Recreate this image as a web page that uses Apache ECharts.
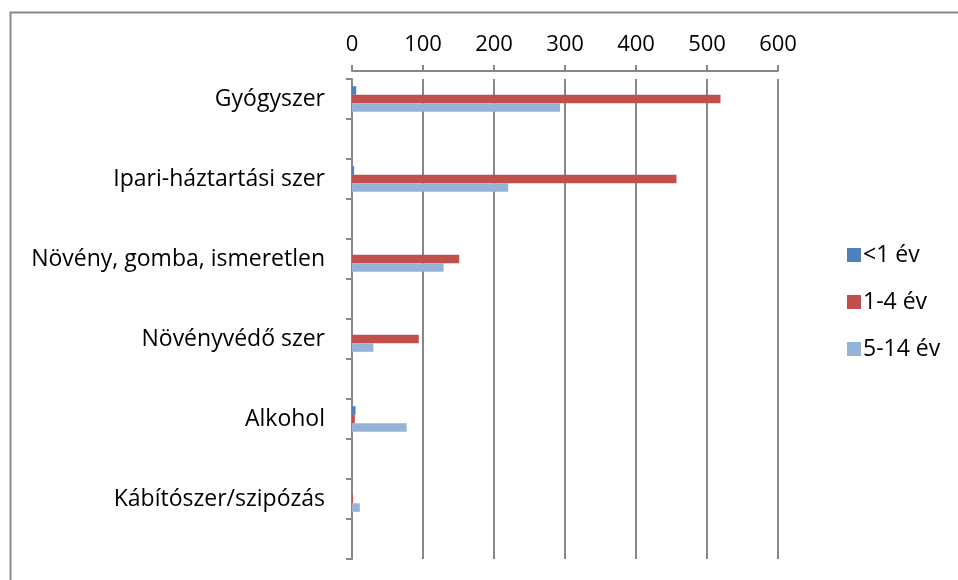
<!DOCTYPE html>
<html>
<head>
<meta charset="utf-8">
<script src="https://cdn.jsdelivr.net/npm/echarts@6/dist/echarts.min.js"></script>
<style>
  html, body { margin: 0; padding: 0; background: #fff; }
  #main { width: 958px; height: 580px; }
</style>
</head>
<body>
<div id="main"></div>
<script>
// adatok
const categories = ['Gyógyszer', 'Ipari-háztartási szer', 'Növény, gomba, ismeretlen', 'Növényvédő szer', 'Alkohol', 'Kábítószer/szipózás']
const under1 = [6, 3, 0, 0, 5, 0]
const age1to4 = [519, 457, 151, 94, 4, 1.5]
const age5to14 = [293, 220, 129, 30, 77, 11]
const xTicks = [0, 100, 200, 300, 400, 500, 600]

// minden kategória után egy üres sor, ahogy az eredeti táblában
const spaced = (arr, blank) => arr.flatMap(v => [v, blank])
const yCats = spaced(categories, '')

const font = '"Open Sans", sans-serif'
const gray = '#878787'

const chart = echarts.init(document.getElementById('main'))
chart.setOption({
  animation: false,
  graphic: [{
    type: 'rect',
    shape: { x: 10.5, y: 12.5, width: 1000, height: 1000 },
    style: { fill: 'none', stroke: gray, lineWidth: 2 }
  }],
  legend: {
    orient: 'vertical',
    left: 842,
    top: 235,
    itemWidth: 14,
    itemHeight: 14,
    itemGap: 17,
    icon: 'rect',
    textStyle: { fontFamily: font, fontSize: 23, lineHeight: 30, color: '#000', padding: [0, 0, 0, -3] },
    data: ['<1 év', '1-4 év', '5-14 év']
  },
  grid: { left: 352, right: 180, top: 79, bottom: 21 },
  xAxis: {
    type: 'value',
    position: 'top',
    offset: 8,
    min: xTicks[0],
    max: xTicks[xTicks.length - 1],
    interval: 100,
    axisLine: { show: true, lineStyle: { color: gray, width: 2 } },
    axisTick: { show: true, length: 6, lineStyle: { color: gray, width: 2 } },
    axisLabel: { fontFamily: font, fontSize: 22, color: '#000', margin: 15 },
    splitLine: { show: true, lineStyle: { color: gray, width: 2 } }
  },
  yAxis: {
    type: 'category',
    inverse: true,
    data: yCats,
    axisLine: { show: true, lineStyle: { color: gray, width: 2 } },
    axisTick: { show: true, length: 6, lineStyle: { color: gray, width: 2 } },
    axisLabel: { fontFamily: font, fontSize: 23, color: '#000', margin: 27, interval: 0 }
  },
  series: [
    { name: '<1 év', type: 'bar', data: spaced(under1, null), itemStyle: { color: '#4F81BD' }, barGap: '0%', barCategoryGap: '36%' },
    { name: '1-4 év', type: 'bar', data: spaced(age1to4, null), itemStyle: { color: '#C0504D' }, barGap: '0%', barCategoryGap: '36%' },
    { name: '5-14 év', type: 'bar', data: spaced(age5to14, null), itemStyle: { color: '#95B3D7' }, barGap: '0%', barCategoryGap: '36%' }
  ]
})
</script>
</body>
</html>
